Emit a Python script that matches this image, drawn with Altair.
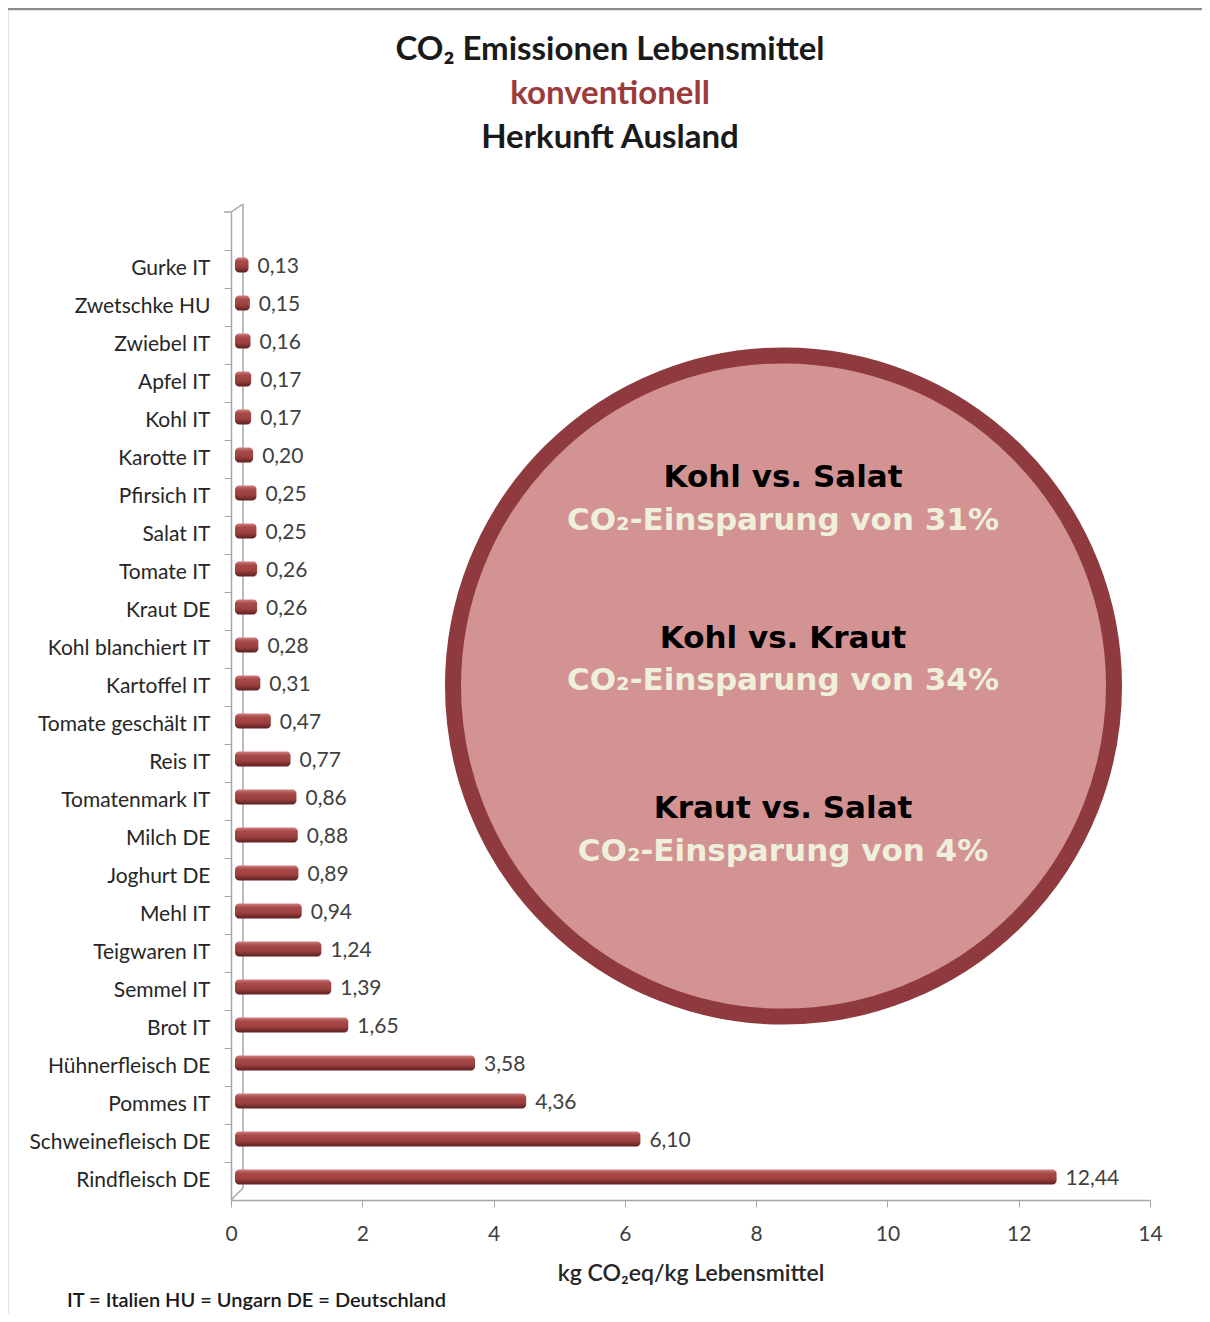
import altair as alt
import pandas as pd

# ---------------- data ----------------
categories = [
    "Gurke IT", "Zwetschke HU", "Zwiebel IT", "Apfel IT", "Kohl IT", "Karotte IT",
    "Pfirsich IT", "Salat IT", "Tomate IT", "Kraut DE", "Kohl blanchiert IT",
    "Kartoffel IT", "Tomate geschält IT", "Reis IT", "Tomatenmark IT", "Milch DE",
    "Joghurt DE", "Mehl IT", "Teigwaren IT", "Semmel IT", "Brot IT",
    "Hühnerfleisch DE", "Pommes IT", "Schweinefleisch DE", "Rindfleisch DE",
]
values = [
    0.13, 0.15, 0.16, 0.17, 0.17, 0.20, 0.25, 0.25, 0.26, 0.26, 0.28, 0.31,
    0.47, 0.77, 0.86, 0.88, 0.89, 0.94, 1.24, 1.39, 1.65, 3.58, 4.36, 6.10, 12.44,
]
x_ticks = [0, 2, 4, 6, 8, 10, 12, 14]

title_lines = ["CO₂ Emissionen Lebensmittel", "konventionell", "Herkunft Ausland"]
circle_heads = ["Kohl vs. Salat", "Kohl vs. Kraut", "Kraut vs. Salat"]
circle_subs = ["CO₂-Einsparung von 31%", "CO₂-Einsparung von 34%", "CO₂-Einsparung von 4%"]
x_title = "kg CO₂eq/kg Lebensmittel"
footnote = "IT = Italien HU = Ungarn DE = Deutschland"

df = pd.DataFrame({
    "cat": categories,
    "val": values,
    "lab": [f"{v:.2f}".replace(".", ",") for v in values],
})

W, H = 919, 988
FONT = "Lato"
GRAY = "#a6a6a6"

y_enc = alt.Y(
    "cat:N", sort=categories, title=None,
    scale=alt.Scale(paddingInner=0, paddingOuter=0.5, align=1),
    axis=alt.Axis(
        bandPosition=0, tickSize=7, tickColor=GRAY, domainColor=GRAY, domainWidth=1.5,
        labelFont=FONT, labelFontSize=21, labelColor="#262626", labelPadding=14,
        labelLimit=400, grid=False,
    ),
)
x_scale = alt.Scale(domain=[0, 14], nice=False)

base = alt.Chart(df)

bar_grad = alt.Gradient(
    gradient="linear", x1=0, x2=0, y1=0, y2=1,
    stops=[
        alt.GradientStop(color="#d08080", offset=0),
        alt.GradientStop(color="#a84a4a", offset=0.25),
        alt.GradientStop(color="#9a3e3e", offset=0.65),
        alt.GradientStop(color="#5a2020", offset=1),
    ],
)

bars = base.mark_bar(
    size=15, color=bar_grad, cornerRadius=4, yOffset=-4, xOffset=9, x2Offset=4,
).encode(
    x=alt.X(
        "val:Q", scale=x_scale, title=x_title,
        axis=alt.Axis(
            values=x_ticks, format="d", grid=False, tickSize=7, tickColor=GRAY,
            domainColor=GRAY, domainWidth=1.5, labelFont=FONT, labelFontSize=21,
            labelColor="#404040", labelPadding=16, labelFlush=False,
            titleFont=FONT, titleFontSize=23, titleFontWeight=600,
            titleColor="#262626", titlePadding=18,
        ),
    ),
    x2=alt.datum(0),
    y=y_enc,
)

labels = base.mark_text(
    align="left", baseline="middle", dx=18, dy=-2, font=FONT, fontSize=21, color="#404040",
).encode(
    x=alt.X("val:Q", scale=x_scale),
    y=alt.Y("cat:N", sort=categories),
    text="lab:N",
)

one = pd.DataFrame({"a": [0]})
ann = alt.Chart(one)

# 3D wall lines and chart border
def rule(x1, y1, x2, y2, color=GRAY, w=1.5):
    return ann.mark_rule(color=color, strokeWidth=w).encode(
        x=alt.value(x1), y=alt.value(y1), x2=alt.value(x2), y2=alt.value(y2)
    )

wall = [
    rule(12, -8, 12, 976),
    rule(0, 0, 12, -8),
    rule(0, H, 12, 976),
    rule(-7, 0, 0, 0),
    rule(-224, -203, 971, -203, "#8c8c8c", 2.5),
    rule(-224, -203, -224, 1102, "#8c8c8c", 2.5),
]

circle = ann.mark_point(
    shape="circle", filled=False, fill="#d39393", fillOpacity=1,
    stroke="#8e3a3e", strokeWidth=16, opacity=1, size=661 * 661,
).encode(x=alt.value(552.5), y=alt.value(474))

title_df = pd.DataFrame({
    "t": title_lines,
    "y": [-162, -118, -74],
    "c": ["#1a1a1a", "#9b3b3b", "#1a1a1a"],
})
title = alt.Chart(title_df).mark_text(
    font=FONT, fontSize=33, fontWeight="bold", align="center", baseline="middle",
).encode(
    x=alt.value(379), y=alt.Y("y:Q", scale=None), text="t:N",
    color=alt.Color("c:N", scale=None),
)

heads_df = pd.DataFrame({"t": circle_heads, "y": [266, 427, 597]})
subs_df = pd.DataFrame({"t": circle_subs, "y": [309, 469, 640]})
heads = alt.Chart(heads_df).mark_text(
    font="DejaVu Sans", fontSize=31, fontWeight="bold", color="#000000",
    align="center", baseline="middle",
).encode(x=alt.value(552), y=alt.Y("y:Q", scale=None), text="t:N")
subs = alt.Chart(subs_df).mark_text(
    font="DejaVu Sans", fontSize=31, fontWeight="bold", color="#eef0dc",
    align="center", baseline="middle",
).encode(x=alt.value(552), y=alt.Y("y:Q", scale=None), text="t:N")

foot = alt.Chart(pd.DataFrame({"t": [footnote]})).mark_text(
    font=FONT, fontSize=20, fontWeight=600, color="#1a1a1a", align="left",
    baseline="alphabetic",
).encode(x=alt.value(-164), y=alt.value(1095), text="t:N")

chart = alt.layer(
    *wall, bars, labels, circle, title, heads, subs, foot
).properties(
    width=W, height=H,
    autosize=alt.AutoSizeParams(type="none"),
    padding={"left": 223, "top": 204, "right": 52, "bottom": 114},
).configure(
    background="white", view=alt.ViewConfig(stroke=None)
)

chart.save("out.html", embed_options={"renderer": "svg", "actions": False})
